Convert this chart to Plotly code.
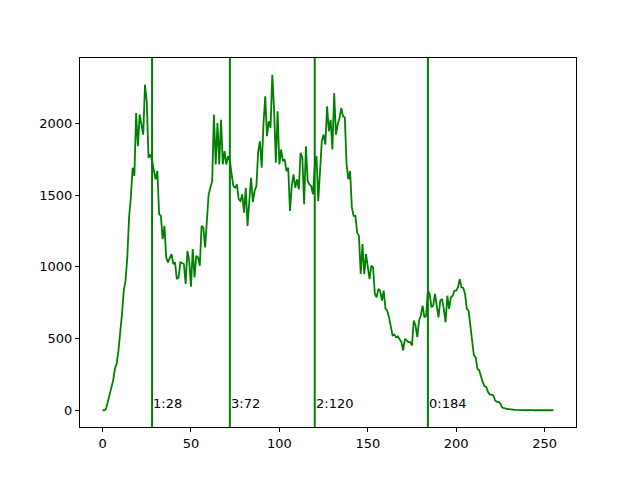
import plotly.graph_objects as go

# histogram counts for levels 0..255
counts = [
    0, 0, 10, 60, 116, 150, 208, 289, 324, 417,
    532, 671, 833, 903, 1065, 1343, 1481, 1690, 1632, 2072,
    1840, 2060, 1991, 1921, 2269, 2153, 1759, 1782, 1740, 1667,
    1609, 1667, 1366, 1354, 1192, 1285, 1065, 1030, 1065, 1088,
    1019, 1030, 914, 926, 1030, 1025, 1019, 880, 1111, 1042,
    861, 1123, 926, 1076, 1065, 1007, 1285, 1273, 1134, 1319,
    1505, 1551, 1597, 2060, 1713, 2002, 1713, 2025, 1713, 1806,
    1713, 1771, 1740, 1644, 1562, 1551, 1574, 1470, 1458, 1505,
    1377, 1551, 1285, 1458, 1620, 1450, 1528, 1562, 1800, 1875,
    1690, 1991, 2188, 1910, 2014, 1968, 2338, 2095, 1725, 2083,
    1713, 1817, 1736, 1748, 1667, 1690, 1389, 1562, 1644, 1551,
    1609, 1539, 1794, 1759, 1435, 1840, 1597, 1574, 1562, 1505,
    1700, 1771, 1458, 1667, 1875, 1921, 1852, 2118, 1944, 2025,
    1817, 2211, 1921, 1991, 2037, 2106, 2049, 2040, 1713, 1609,
    1667, 1412, 1354, 1354, 1238, 1215, 949, 1158, 949, 1088,
    1007, 914, 1007, 995, 810, 787, 845, 833, 764, 833,
    706, 694, 648, 579, 521, 528, 509, 514, 498, 475,
    417, 498, 486, 475, 475, 451, 625, 590, 509, 625,
    660, 729, 648, 660, 833, 810, 718, 729, 810, 718,
    648, 764, 775, 706, 613, 798, 706, 787, 798, 833,
    833, 856, 914, 856, 852, 810, 706, 694, 579, 486,
    382, 370, 289, 278, 231, 197, 167, 162, 127, 109,
    109, 104, 69, 58, 58, 46, 19, 14, 12, 7,
    7, 5, 0, 3, 2, 1, 2, 0, 1, 2,
    0, 1, 3, 1, 0, 2, 1, 0, 1, 2,
    1, 0, 2, 1, 0, 1,
]
levels = list(range(len(counts)))

# thresholds and their labels
split_x = [28, 72, 120, 184]
split_labels = ["1:28", "3:72", "2:120", "0:184"]

green = "#008000"
fig = go.Figure()
fig.add_trace(go.Scatter(x=levels, y=counts, mode="lines",
                         line=dict(color=green, width=1.8), hoverinfo="skip"))

for x, lab in zip(split_x, split_labels):
    fig.add_vline(x=x, line_color=green, line_width=2)
    fig.add_annotation(x=x, y=0, text=lab, showarrow=False, xanchor="left",
                       yanchor="bottom", yshift=-3, xshift=-1,
                       font=dict(size=13, color="black"))

axis = dict(showgrid=False, zeroline=False, showline=True, linecolor="black",
            linewidth=1, mirror=True, ticks="outside", ticklen=4,
            tickcolor="black", tickfont=dict(size=13, color="black"))
# page body adds an 8px offset, so margins are shifted to compensate
fig.update_layout(
    width=640, height=480,
    margin=dict(l=72, r=72, t=50, b=61),
    plot_bgcolor="white", paper_bgcolor="white",
    showlegend=False,
    font=dict(family="DejaVu Sans"),
    xaxis=dict(range=[-12.75, 267.75], tickvals=[0, 50, 100, 150, 200, 250], **axis),
    yaxis=dict(range=[-116.9, 2454.9], tickvals=[0, 500, 1000, 1500, 2000], **axis),
)
fig.write_html("out.html")
